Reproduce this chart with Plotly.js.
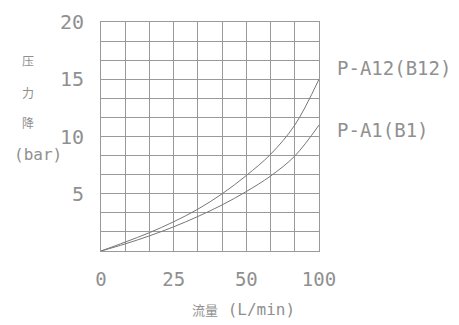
<!DOCTYPE html>
<html><head><meta charset="utf-8">
<script src="https://cdn.plot.ly/plotly-3.0.1.min.js"></script>
<style>body{margin:0;background:#fff}#c{width:459px;height:325px}</style>
</head><body><div id="c"></div>
<script>
// flow axis positions (axis units, 0..100 across the grid)
const flowA12 = [0, 11.1, 22.2, 33.3, 44.4, 55.6, 66.7, 77.8, 88.9, 100];
const dpA12   = [0, 0.78, 1.6, 2.55, 3.65, 5.0, 6.6, 8.45, 11.0, 15.0];
const flowA1  = [0, 11.1, 22.2, 33.3, 44.4, 55.6, 66.7, 77.8, 88.9, 100];
const dpA1    = [0, 0.62, 1.32, 2.11, 3.01, 4.03, 5.2, 6.55, 8.3, 11.0];
const xTickVals = [0, 100/3, 200/3, 100];
const xTickText = ["0", "25", "50", "100"];
const yTickVals = [5, 10, 15, 20];
const seriesNames = ["P-A12(B12)", "P-A1(B1)"];

const font = "DejaVu Sans Mono, monospace";
const cjk = "Noto Sans CJK SC";
const txt = "#909090";
const lineStyle = {color: "#777", width: 1, shape: "spline", smoothing: 1};

const traces = [
  {x: flowA12, y: dpA12, mode: "lines", line: lineStyle, name: seriesNames[0], hoverinfo: "none"},
  {x: flowA1, y: dpA1, mode: "lines", line: lineStyle, name: seriesNames[1], hoverinfo: "none"}
];

const gridCol = "#9a9a9a";
const layout = {
  width: 459, height: 325,
  margin: {l: 101, r: 140, t: 22, b: 74},
  paper_bgcolor: "#fff", plot_bgcolor: "#fff",
  showlegend: false,
  font: {family: font, color: txt},
  xaxis: {
    range: [0, 100], tickvals: xTickVals, ticktext: xTickText,
    showgrid: true, gridcolor: gridCol, gridwidth: 1,
    minor: {dtick: 100/9, tick0: 0, showgrid: true, gridcolor: gridCol, gridwidth: 1},
    showline: true, mirror: true, linecolor: gridCol, linewidth: 1,
    zeroline: false, ticks: "", ticklabelstandoff: 11,
    tickfont: {size: 19, color: txt, family: font}
  },
  yaxis: {
    range: [0, 20], tickvals: yTickVals,
    showgrid: true, gridcolor: gridCol, gridwidth: 1,
    minor: {dtick: 5/3, tick0: 0, showgrid: true, gridcolor: gridCol, gridwidth: 1},
    showline: true, mirror: true, linecolor: gridCol, linewidth: 1,
    zeroline: false, ticks: "", ticklabelstandoff: 12,
    tickfont: {size: 20, color: txt, family: font}
  },
  annotations: [
    {xref: "paper", yref: "y", x: 1.075, y: 16, xanchor: "left", yanchor: "middle", showarrow: false,
     text: seriesNames[0], font: {size: 19, color: txt, family: font}},
    {xref: "paper", yref: "y", x: 1.075, y: 10.6, xanchor: "left", yanchor: "middle", showarrow: false,
     text: seriesNames[1], font: {size: 19, color: txt, family: font}},
    {xref: "paper", yref: "paper", x: -0.335, y: 0.83, xanchor: "center", yanchor: "middle", showarrow: false,
     text: "压", font: {size: 12, color: txt, family: cjk}},
    {xref: "paper", yref: "paper", x: -0.335, y: 0.69, xanchor: "center", yanchor: "middle", showarrow: false,
     text: "力", font: {size: 12, color: txt, family: cjk}},
    {xref: "paper", yref: "paper", x: -0.335, y: 0.56, xanchor: "center", yanchor: "middle", showarrow: false,
     text: "降", font: {size: 12, color: txt, family: cjk}},
    {xref: "paper", yref: "paper", x: -0.29, y: 0.42, xanchor: "center", yanchor: "middle", showarrow: false,
     text: "(bar)", font: {size: 16, color: txt, family: font}},
    {xref: "paper", yref: "paper", x: 0.655, y: -0.255, xanchor: "center", yanchor: "middle", showarrow: false,
     text: "<span style=\"font-family:'Noto Sans CJK SC';font-size:13px\">流量</span> (L/min)",
     font: {size: 16, color: txt, family: font}}
  ]
};
Plotly.newPlot("c", traces, layout, {staticPlot: true, displayModeBar: false});
</script></body></html>
